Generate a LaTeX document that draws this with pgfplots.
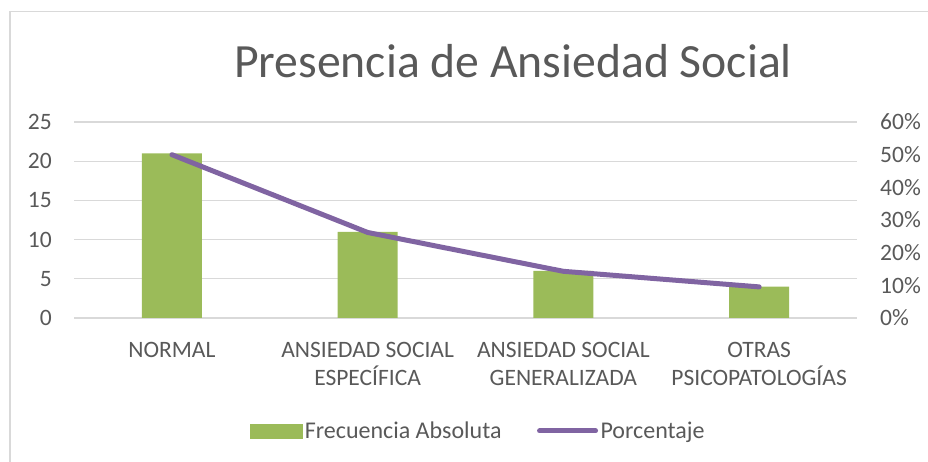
\documentclass[border=0pt]{standalone}
\usepackage{fontspec}
\setmainfont{Carlito}
\usepackage{pgfplots}
\pgfplotsset{compat=1.18}
\definecolor{barg}{HTML}{9BBB59}
\definecolor{linep}{HTML}{8064A2}
\definecolor{txt}{HTML}{595959}
\definecolor{grd}{HTML}{D9D9D9}
\begin{document}
\begin{tikzpicture}[x=1bp,y=1bp]
\path[use as bounding box] (0,0) rectangle (928,462);
\draw[grd, line width=1.5bp] (10,0) -- (10,450.5) -- (928,450.5);
\node[txt, font=\fontsize{47.7bp}{52bp}\selectfont, anchor=base, inner sep=0] at (513,384) {Presencia de Ansiedad Social};
\begin{axis}[
  at={(74bp,144bp)}, anchor=south west, scale only axis,
  width=783bp, height=196bp,
  xmin=-0.5, xmax=3.5, ymin=0, ymax=25,
  ytick={0,5,...,25}, xtick={0,1,2,3},
  xticklabels={NORMAL,{ANSIEDAD SOCIAL\\ESPECÍFICA},{ANSIEDAD SOCIAL\\GENERALIZADA},{OTRAS\\PSICOPATOLOGÍAS}},
  axis line style={draw=none}, major tick length=0,
  ymajorgrids, grid style={grd, line width=1.3bp},
  tick label style={txt, font=\fontsize{23.5bp}{28bp}\selectfont, inner sep=0},
  /pgf/number format/assume math mode=true,
  yticklabel style={anchor=east, xshift=-22bp},
  xticklabel style={align=center, anchor=north, yshift=-24bp},
]
\addplot[ybar, bar width=60bp, fill=barg, draw=none] coordinates {(0,21) (1,11) (2,6) (3,4)};
\end{axis}
\begin{axis}[
  at={(74bp,144bp)}, anchor=south west, scale only axis,
  width=783bp, height=196bp,
  xmin=-0.5, xmax=3.5, ymin=0, ymax=60,
  ytick={0,10,...,60},
  yticklabel={\pgfmathprintnumber{\tick}\%},
  axis y line*=right, hide x axis,
  axis line style={draw=none}, major tick length=0,
  tick label style={txt, font=\fontsize{23.5bp}{28bp}\selectfont, inner sep=0},
  /pgf/number format/assume math mode=true,
  yticklabel style={anchor=west, xshift=23bp},
  legend columns=2,
  legend style={at={(0.5166,-0.5765)}, anchor=center, draw=none, fill=none,
    font=\fontsize{24bp}{28bp}\selectfont, text=txt,
    /tikz/every even column/.append style={column sep=33bp},
    nodes={inner sep=2.5bp}},
  legend cell align=left,
]
\addlegendimage{legend image code/.code={\fill[barg] (0bp,-7bp) rectangle (52bp,7bp);}}
\addlegendentry{Frecuencia Absoluta}
\addplot[linep, line width=5bp, line cap=round, legend image code/.code={\draw[linep, line width=5bp, line cap=round] (0bp,0bp) -- (56bp,0bp);}] coordinates {(0,50) (1,26.19) (2,14.29) (3,9.52)};
\addlegendentry{Porcentaje}
\end{axis}
\end{tikzpicture}
\end{document}
